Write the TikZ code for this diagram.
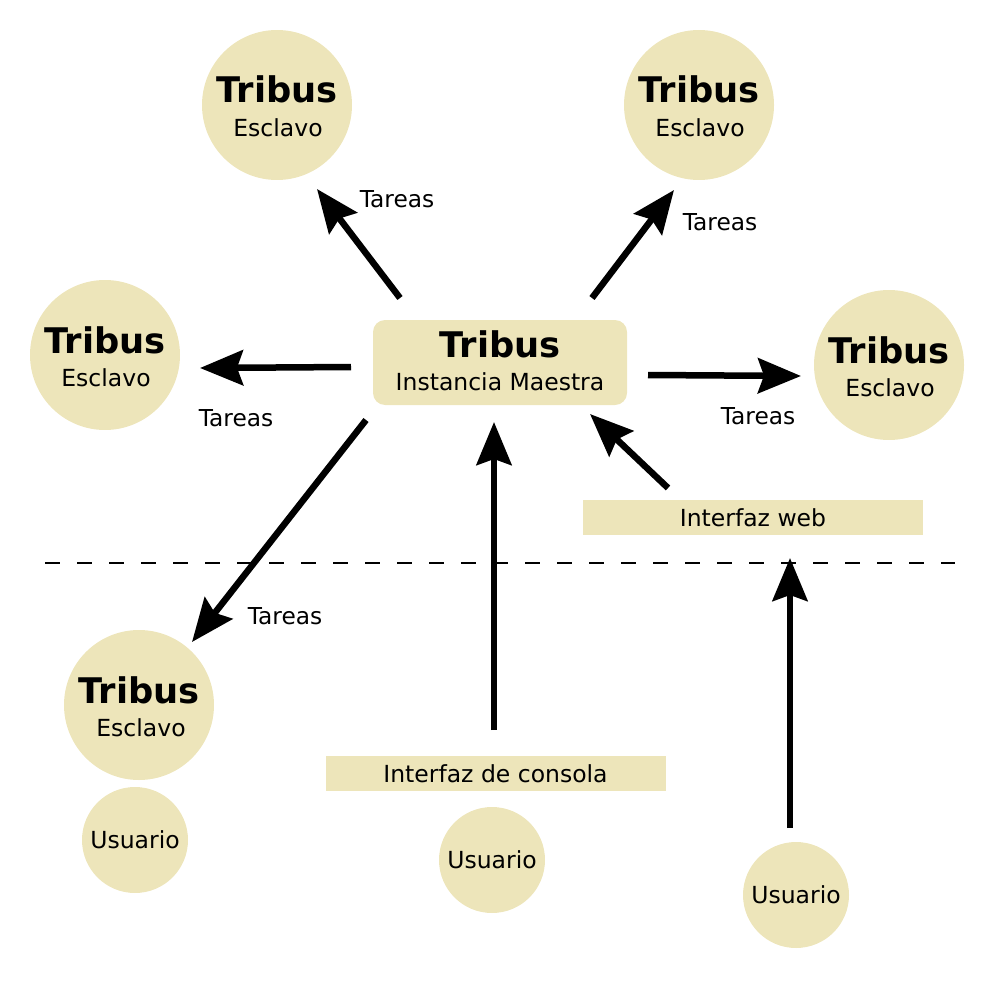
\documentclass[tikz,border=0pt]{standalone}
\usepackage{fontspec}
\setmainfont{DejaVu Sans}
\usetikzlibrary{arrows.meta}
\definecolor{tribtan}{RGB}{237,229,186}
\tikzset{
  slave/.style={circle, fill=tribtan, minimum size=150pt, inner sep=0pt},
  user/.style={circle, fill=tribtan, minimum size=106pt, inner sep=0pt, font=\fontsize{23.5}{28}\selectfont},
  master/.style={rounded corners=12pt, fill=tribtan, minimum width=254pt, minimum height=85pt, inner sep=0pt},
  bar/.style={fill=tribtan, minimum width=340pt, minimum height=35pt, inner sep=0pt, font=\fontsize{23.5}{28}\selectfont},
  big/.style={anchor=base, inner sep=0pt, font=\fontsize{35.3}{42}\selectfont\bfseries},
  small/.style={anchor=base, inner sep=0pt, font=\fontsize{23.5}{28}\selectfont},
  lbl/.style={anchor=base, inner sep=0pt, font=\fontsize{23.3}{28}\selectfont},
  flow/.style={line width=6.5pt, -{Stealth[length=43pt,width=35pt,inset=6pt]}},
  divider/.style={line width=2pt, dash pattern=on 15pt off 17pt},
}
\begin{document}
\begin{tikzpicture}[x=1pt,y=-1pt]
\useasboundingbox (0,0) rectangle (1000,1000);
% slaves
\node[slave] (s1) at (277,105) {};
\node[big] at (277,103) {Tribus};
\node[small] at (278,136.5) {Esclavo};
\node[slave] (s2) at (699,105) {};
\node[big] at (699,103) {Tribus};
\node[small] at (700,136.5) {Esclavo};
\node[slave] (s3) at (105,355) {};
\node[big] at (105,353) {Tribus};
\node[small] at (106,386.5) {Esclavo};
\node[slave] (s4) at (889,365) {};
\node[big] at (889,363) {Tribus};
\node[small] at (890,396.5) {Esclavo};
\node[slave] (s5) at (139,705) {};
\node[big] at (139,703) {Tribus};
\node[small] at (141,736) {Esclavo};
% master
\node[master] (m) at (500,362.5) {};
\node[big] at (500,357) {Tribus};
\node[small] at (500,390) {Instancia Maestra};
% interfaces
\node[bar] (web) at (753,517.5) {Interfaz web};
\node[bar] (con) at (495.5,773.5) {Interfaz de consola};
% users
\node[user] (u1) at (135,840) {Usuario};
\node[user] (u2) at (492,860) {Usuario};
\node[user] (u3) at (796,895) {Usuario};
% divider
\coordinate (dl) at (45,563);
\coordinate (dr) at (955,563);
\draw[divider] (dl) -- (dr);
% arrow end points
\coordinate (a1s) at (400,298); \coordinate (a1e) at (317,189);
\coordinate (a2s) at (592,298); \coordinate (a2e) at (674,190);
\coordinate (a3s) at (351,367); \coordinate (a3e) at (200,368);
\coordinate (a4s) at (648,375); \coordinate (a4e) at (801,376);
\coordinate (a5s) at (366,420); \coordinate (a5e) at (192,642);
\coordinate (a6s) at (494,730); \coordinate (a6e) at (494,422);
\coordinate (a7s) at (668,488); \coordinate (a7e) at (590,414);
\coordinate (a8s) at (790,828); \coordinate (a8e) at (790,558);
\draw[flow] (a1s) -- (a1e);
\draw[flow] (a2s) -- (a2e);
\draw[flow] (a3s) -- (a3e);
\draw[flow] (a4s) -- (a4e);
\draw[flow] (a5s) -- (a5e);
\draw[flow] (a6s) -- (a6e);
\draw[flow] (a7s) -- (a7e);
\draw[flow] (a8s) -- (a8e);
% labels
\node[lbl] (t1) at (397,208) {Tareas};
\node[lbl] (t2) at (720,230) {Tareas};
\node[lbl] (t3) at (236,426) {Tareas};
\node[lbl] (t4) at (758,424) {Tareas};
\node[lbl] (t5) at (285,624) {Tareas};
\end{tikzpicture}
\end{document}
